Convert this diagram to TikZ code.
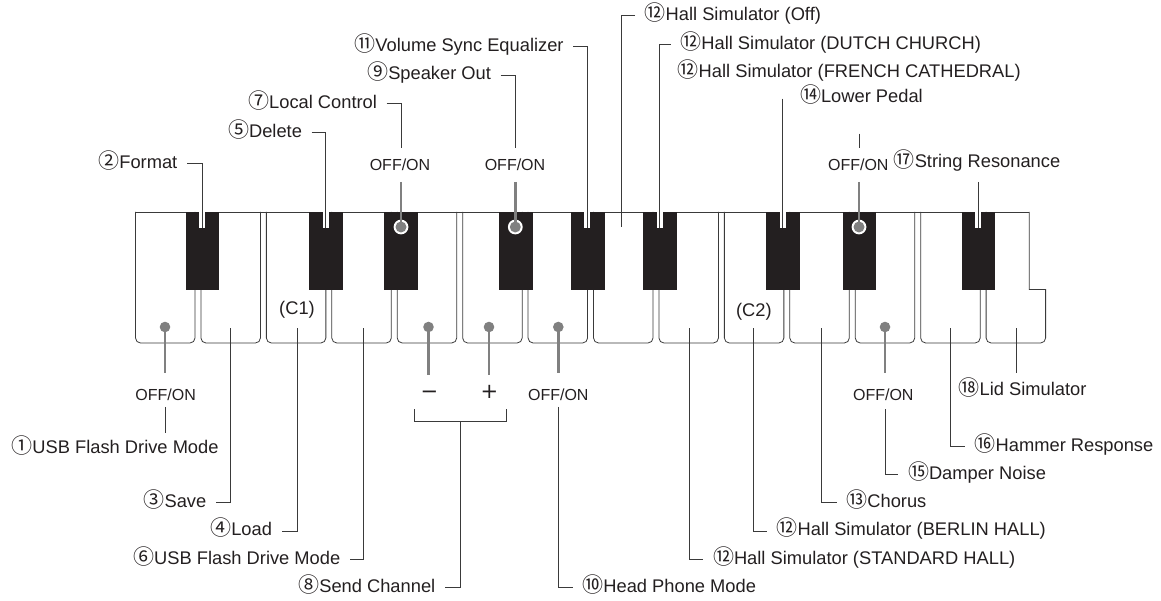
\documentclass[tikz,border=0pt]{standalone}
\usepackage{fontspec}
\setmainfont{Liberation Sans}
\newfontfamily\cjk{Noto Sans CJK JP}
\newfontfamily\symfont{DejaVu Sans}
\newcommand{\cn}[1]{{\cjk\fontsize{21}{20}\selectfont #1}}
\definecolor{ink}{HTML}{3A3A3A}
\definecolor{keyblack}{HTML}{231F20}
\definecolor{dotgray}{HTML}{808080}

\tikzstyle{keyline} = [draw=ink,line width=0.8pt]
\tikzstyle{ltext} = [font=\fontsize{18.3}{20}\selectfont,inner xsep=9.5pt,inner ysep=0pt,text height=13pt,text depth=3.5pt,text=keyblack]
\tikzstyle{onoff} = [font=\fontsize{16}{18}\selectfont,inner sep=0pt,text height=11.5pt,text depth=0pt,text=keyblack]
\tikzstyle{sign} = [font=\symfont\fontsize{21}{22}\selectfont,inner sep=0pt,text height=13pt,text depth=3.5pt,text=keyblack]
\tikzstyle{conn} = [draw=ink,line width=0.9pt]
\tikzstyle{gline} = [draw=dotgray,line width=2.4pt]
\tikzstyle{notch} = [draw=white,line width=6pt]

\begin{document}
\begin{tikzpicture}[x=1pt,y=-1pt]
	\useasboundingbox (0,0) rectangle (1161,601);
	\foreach \i in {0,...,12}
	{\draw[keyline,rounded corners=5] ({135.5+65.43*\i},212) |- ({195+65.43*\i},343) -- ({195+65.43*\i},212);}
	\draw[keyline] (1029.3,212) -- (1029.3,289.5) -- (1045.6,289.5) [rounded corners=5] -- (1045.6,343) -| (986.1,212);
	\draw[keyline] (135.5,212) -- (1029.3,212);
	\foreach \x in {185.7,309,384,499.3,571,643,766,842.7,961.7}
	{\fill[keyblack] (\x,212) rectangle ++(33.5,78);}
	\coordinate (top) at (0,211);
	\coordinate (kAs0) at (202.4,228);
	\coordinate (kCs1) at (325.7,228);
	\coordinate (kGs1) at (587,228);
	\coordinate (kA1) at (621.7,227);
	\coordinate (kAs1) at (659.5,228);
	\coordinate (kCs2) at (782.8,228);
	\coordinate (kFs2) at (978,228);
	\coordinate (cDs1) at (401,227);
	\coordinate (cFs1) at (515.3,227);
	\coordinate (cDs2) at (859,227);
	\coordinate (kB0) at (230.7,328.3);
	\coordinate (kC1) at (297.3,328.3);
	\coordinate (kD1) at (363.8,328.3);
	\coordinate (kB1) at (689.5,328.3);
	\coordinate (kC2) at (753.3,328.3);
	\coordinate (kD2) at (821,328.3);
	\coordinate (kF2) at (950.7,328.3);
	\coordinate (kG2) at (1016,328.3);
	\coordinate (dA0) at (165,327);
	\coordinate (dE1) at (428.5,327);
	\coordinate (dF1) at (489,327);
	\coordinate (dG1) at (558.3,327);
	\coordinate (dE2) at (885,327);
	\coordinate (brk) at (460,421.7);
	\foreach \k in {kAs0,kCs1,kGs1,kAs1,kCs2,kFs2}
	{\draw[notch] (\k) -- (\k |- top);}

	\node[ltext,anchor=east] (fmt) at (187,163.5) {\cn{②}Format};
	\node[ltext,anchor=east] (del) at (311.7,132.3) {\cn{⑤}Delete};
	\node[ltext,anchor=east] (loc) at (386.7,103.3) {\cn{⑦}Local Control};
	\node[ltext,anchor=east] (spk) at (500.7,75) {\cn{⑨}Speaker Out};
	\node[ltext,anchor=east] (vol) at (573.3,46.7) {\cn{⑪}Volume Sync Equalizer};
	\node[ltext,anchor=west] (hoff) at (635,15.7) {\cn{⑫}Hall Simulator (Off)};
	\node[ltext,anchor=west] (hdut) at (670.7,44.4) {\cn{⑫}Hall Simulator (DUTCH CHURCH)};
	\node[ltext] (hfr) at (849.2,72.8) {\cn{⑫}Hall Simulator (FRENCH CATHEDRAL)};
	\node[ltext] (lowp) at (861.4,97.8) {\cn{⑭}Lower Pedal};
	\node[ltext] (str) at (977,162.8) {\cn{⑰}String Resonance};
	\node[onoff] (offloc) at (400,164.3) {OFF/ON};
	\node[onoff] (offspk) at (515,164.3) {OFF/ON};
	\node[onoff] (offlow) at (858.3,164.3) {OFF/ON};

	\node[ltext] (c1) at (297,310) {(C1)};
	\node[ltext] (c2) at (753.8,311.8) {(C2)};

	\node[onoff] (offA) at (165.7,395) {OFF/ON};
	\node[ltext] (usb1) at (115,449) {\cn{①}USB Flash Drive Mode};
	\node[ltext,anchor=east] (save) at (216,502.7) {\cn{③}Save};
	\node[ltext,anchor=east] (load) at (281.7,531) {\cn{④}Load};
	\node[ltext,anchor=east] (usb6) at (350,559.3) {\cn{⑥}USB Flash Drive Mode};
	\node[sign] (mns) at (429.3,394) {−};
	\node[sign] (pls) at (489.3,394) {+};
	\node[ltext,anchor=east] (send) at (445,587.3) {\cn{⑧}Send Channel};
	\node[onoff] (offG) at (558.3,395) {OFF/ON};
	\node[ltext,anchor=west] (head) at (572.7,587.3) {\cn{⑩}Head Phone Mode};
	\node[ltext,anchor=west] (hstd) at (703.3,559.3) {\cn{⑫}Hall Simulator (STANDARD HALL)};
	\node[ltext,anchor=west] (hber) at (767,531) {\cn{⑫}Hall Simulator (BERLIN HALL)};
	\node[ltext,anchor=west] (chor) at (836.7,502.5) {\cn{⑬}Chorus};
	\node[onoff] (offE) at (883.3,395) {OFF/ON};
	\node[ltext,anchor=west] (damp) at (898.3,474.5) {\cn{⑮}Damper Noise};
	\node[ltext,anchor=west] (hamm) at (965,446.5) {\cn{⑯}Hammer Response};
	\node[ltext] (lid) at (1022.5,391) {\cn{⑱}Lid Simulator};

	\draw[conn] (fmt.east) -| (kAs0);
	\draw[conn] (del.east) -| (kCs1);
	\draw[conn,shorten >=10pt] (loc.east) -| (cDs1 |- offloc.north);
	\draw[conn,shorten >=10pt] (spk.east) -| (cFs1 |- offspk.north);
	\draw[conn] (vol.east) -| (kGs1);
	\draw[conn] (hoff.west) -| (kA1);
	\draw[conn] (hdut.west) -| (kAs1);
	\draw[conn,shorten <=17.3pt] (kCs2 |- hfr.south) -- (kCs2);
	\draw[conn,shorten <=27.3pt,shorten >=10pt] (cDs2 |- lowp.south) -- (cDs2 |- offlow.north);
	\draw[conn,shorten <=10.6pt] (kFs2 |- str.south) -- (kFs2);
	\foreach \c/\o in {cDs1/offloc,cFs1/offspk,cDs2/offlow}
	{\fill[white] (\c) circle (7.4);
	\draw[gline,shorten <=11.7pt] (\c |- \o.south) -- (\c);
	\fill[dotgray] (\c) circle (5.5);}

	\draw[gline,shorten >=16.5pt] (dA0) -- (dA0 |- offA.north);
	\draw[conn,shorten <=6pt,shorten >=8pt] (dA0 |- offA.south) -- (dA0 |- usb1.north);
	\draw[conn] (kB0) |- (save.east);
	\draw[conn] (kC1) |- (load.east);
	\draw[conn] (kD1) |- (usb6.east);
	\draw[gline,shorten >=11pt] (dE1) -- (dE1 |- mns.north);
	\draw[gline,shorten >=11pt] (dF1) -- (dF1 |- pls.north);
	\draw[conn] (414,409) |- (brk) -| (506,409);
	\draw[conn] (brk) |- (send.east);
	\draw[gline,shorten >=16.5pt] (dG1) -- (dG1 |- offG.north);
	\draw[conn,shorten <=6pt] (dG1 |- offG.south) |- (head.west);
	\draw[conn] (kB1) |- (hstd.west);
	\draw[conn] (kC2) |- (hber.west);
	\draw[conn] (kD2) |- (chor.west);
	\draw[gline,shorten >=16.5pt] (dE2) -- (dE2 |- offE.north);
	\draw[conn,shorten <=8.5pt] (dE2 |- offE.south) |- (damp.west);
	\draw[conn] (kF2) |- (hamm.west);
	\draw[conn,shorten >=10pt] (kG2) -- (kG2 |- lid.north);
	\foreach \d in {dA0,dE1,dF1,dG1,dE2}
	{\fill[dotgray] (\d) circle (5.3);}
\end{tikzpicture}
\end{document}
